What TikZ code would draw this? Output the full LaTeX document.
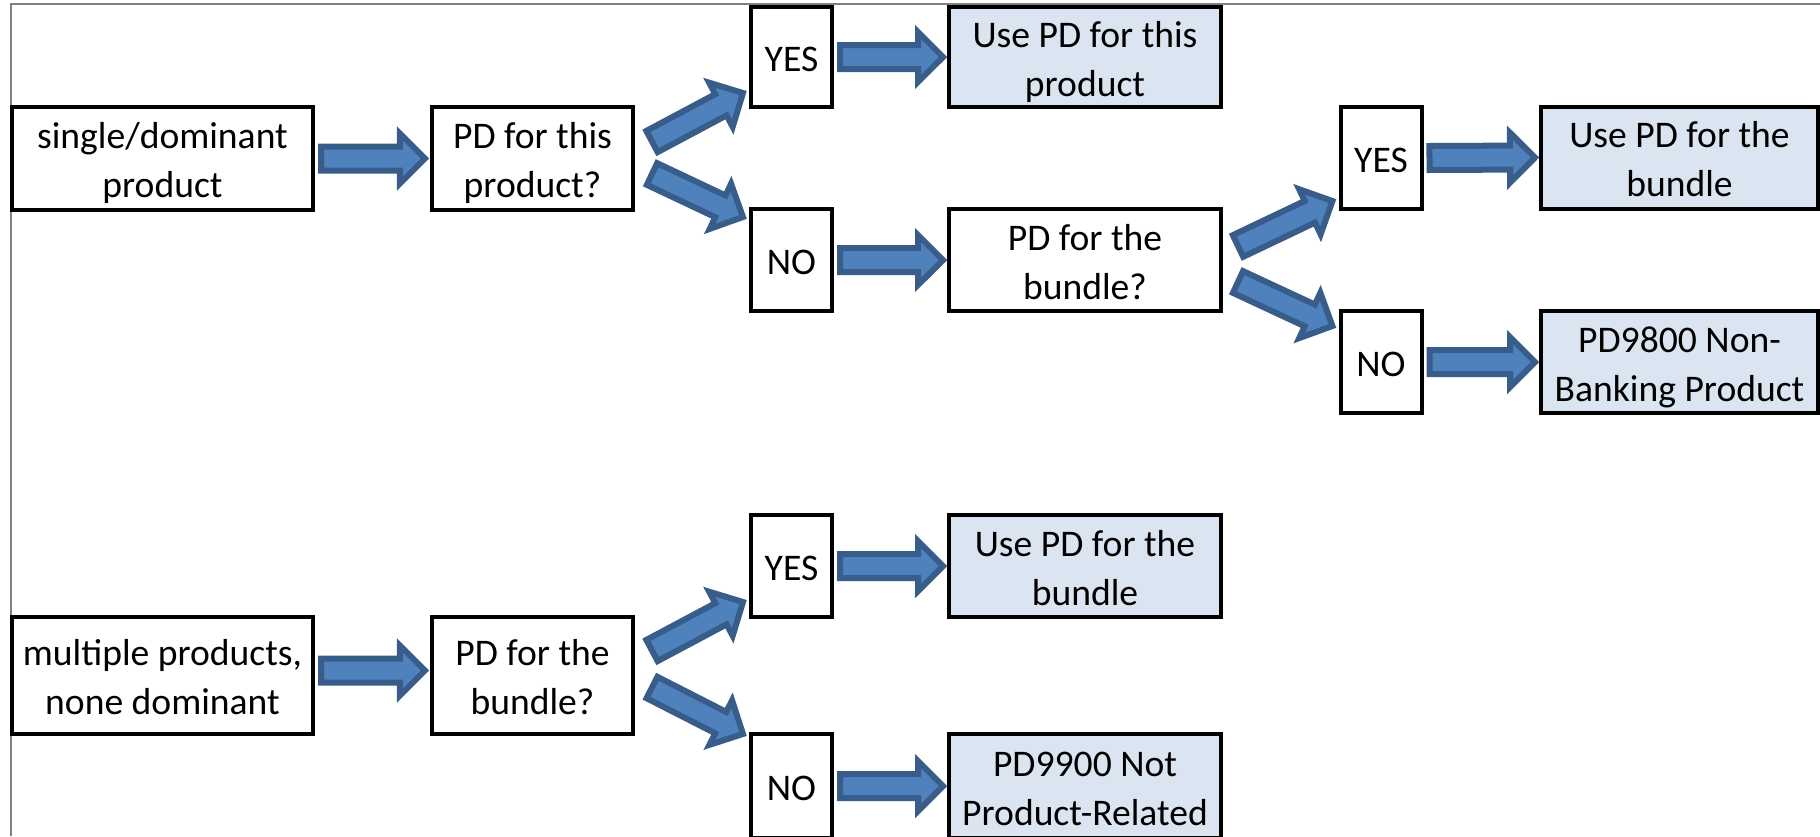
\documentclass[tikz,border=0pt]{standalone}
\usepackage{fontspec}
\setmainfont{Carlito}
\usepackage{xcolor}
\usetikzlibrary{calc,shapes.arrows}
\definecolor{arrowfill}{HTML}{4F81BD}
\definecolor{arrowline}{HTML}{385D8A}
\definecolor{resfill}{HTML}{DBE5F1}

\newcommand{\fatarrow}[2]{%
  \path let \p1=(#1), \p2=(#2),
    \n1={atan2(\y2-\y1,\x2-\x1)}, \n2={veclen(\x2-\x1,\y2-\y1)} in
    node[fat, rotate=\n1, minimum height=\n2, anchor=tail] at (\p1) {};}

\begin{document}
\begin{tikzpicture}[font=\fontsize{10.7}{13.9}\selectfont,
  box/.style={draw, line width=0.4mm, inner sep=0pt, outer sep=0pt, align=center,
    text height=7.8mm, text depth=0pt},
  startbox/.style={box, minimum width=30.1mm, minimum height=10.3mm},
  askbox/.style={box, minimum width=20.1mm, minimum height=10.3mm},
  ansbox/.style={box, minimum width=8.1mm, minimum height=10.2mm, text height=2.9mm},
  widebox/.style={box, minimum width=27.2mm, minimum height=10.2mm},
  resbox/.style={widebox, fill=resfill},
  fat/.style={single arrow, draw=arrowline, fill=arrowfill, line width=0.6mm,
    inner xsep=0pt, inner ysep=0.9mm, outer sep=0pt, text height=0pt, text depth=0pt,
    single arrow head extend=1.3mm, single arrow head indent=0pt}]
\useasboundingbox (0,0) rectangle (18.2,8.36);
\draw[gray, line width=0.2mm] (0.11,0) -- (0.11,8.32) -- (18.2,8.32);

% single product
\node[startbox] (single) at (1.625,6.775) {single/dominant\\product};
\node[askbox] (askone) at (5.325,6.775) {PD for this\\product?};
\node[ansbox, minimum height=10mm] (yesone) at (7.915,7.79) {YES};
\node[resbox, minimum height=10mm] (useone) at (10.85,7.79) {Use PD for this\\product};
\node[ansbox] (noone) at (7.915,5.76) {NO};
\node[widebox] (asktwo) at (10.85,5.76) {PD for the\\bundle?};
\node[ansbox] (yestwo) at (13.81,6.78) {YES};
\node[resbox, minimum width=27.7mm] (usetwo) at (16.795,6.785) {Use PD for the\\bundle};
\node[ansbox] (notwo) at (13.81,4.74) {NO};
\node[resbox, minimum width=27.7mm] (nonbank) at (16.795,4.74) {PD9800 Non-\\Banking Product};

% multiple products
\node[startbox, minimum height=11.7mm] (multi) at (1.625,1.605) {multiple products,\\none dominant};
\node[askbox, minimum height=11.7mm] (askthree) at (5.325,1.605) {PD for the\\bundle?};
\node[ansbox] (yesthree) at (7.915,2.70) {YES};
\node[resbox] (usethree) at (10.85,2.70) {Use PD for the\\bundle};
\node[ansbox, minimum height=10.4mm] (nothree) at (7.915,0.50) {NO};
\node[resbox, minimum height=10.4mm] (notrel) at (10.85,0.50) {PD9900 Not\\Product-Related};

% arrows
\fatarrow{$(single.east)+(0.08,0)$}{$(askone.west)+(-0.07,0)$}
\fatarrow{$(askone.east)+(0.19,0.17)$}{$(yesone.south west)+(-0.08,0.14)$}
\fatarrow{$(askone.east)+(0.19,-0.155)$}{$(noone.north west)+(-0.08,-0.08)$}
\fatarrow{$(yesone.east)+(0.08,0)$}{$(useone.west)+(-0.06,0)$}
\fatarrow{$(noone.east)+(0.08,0)$}{$(asktwo.west)+(-0.06,0)$}
\fatarrow{$(asktwo.east)+(0.17,0.14)$}{$(yestwo.south west)+(-0.08,0.08)$}
\fatarrow{$(asktwo.east)+(0.17,-0.22)$}{$(notwo.north west)+(-0.08,-0.15)$}
\fatarrow{$(yestwo.east)+(0.08,0)$}{$(usetwo.west)+(-0.06,0)$}
\fatarrow{$(notwo.east)+(0.08,0)$}{$(nonbank.west)+(-0.06,0)$}
\fatarrow{$(multi.east)+(0.08,0.05)$}{$(askthree.west)+(-0.07,0.05)$}
\fatarrow{$(askthree.east)+(0.19,0.25)$}{$(yesthree.south west)+(-0.08,0.15)$}
\fatarrow{$(askthree.east)+(0.19,-0.12)$}{$(nothree.north west)+(-0.08,0)$}
\fatarrow{$(yesthree.east)+(0.08,0)$}{$(usethree.west)+(-0.06,0)$}
\fatarrow{$(nothree.east)+(0.08,0)$}{$(notrel.west)+(-0.06,0)$}
\end{tikzpicture}
\end{document}
